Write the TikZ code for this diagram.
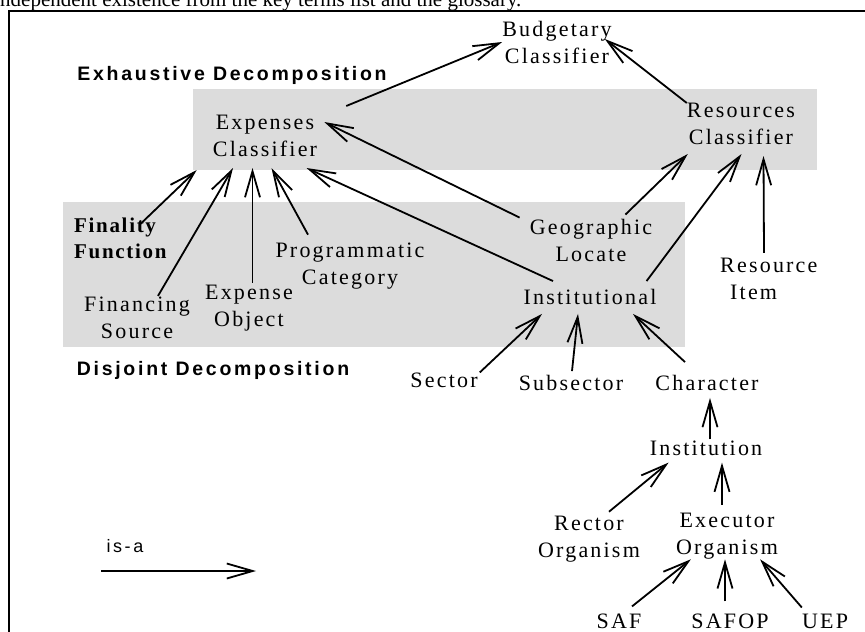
\documentclass[tikz,border=0pt]{standalone}
\usepackage{fontspec}
\setmainfont{Liberation Serif}
\setsansfont{Liberation Sans}
\newfontfamily\spacedserif[LetterSpace=10]{Liberation Serif}
\newfontfamily\spacedbold[LetterSpace=8]{Liberation Serif}
\newfontfamily\spacedsans[LetterSpace=14]{Liberation Sans}
\usetikzlibrary{arrows.meta}
\definecolor{panelgray}{RGB}{220,220,220}
\tikzset{
  term/.style={inner sep=0pt, align=center, font=\spacedserif\fontsize{22}{27}\selectfont},
  boldterm/.style={inner sep=0pt, align=left, font=\spacedbold\bfseries\fontsize{21}{26}\selectfont},
  decomp/.style={inner sep=0pt, font=\spacedsans\bfseries\fontsize{19.5}{23}\selectfont},
  isa/.style={-{Straight Barb[length=26pt,width=15pt]}, line width=1.8pt},
  panel/.style={fill=panelgray}
}
\begin{document}
\begin{tikzpicture}[x=1pt,y=-1pt]
            \useasboundingbox (0,0) rectangle (865,632);
            \clip (0,0) rectangle (865,632);
            \node (caption) [anchor=base west, inner sep=0pt, font=\fontsize{21}{25}\selectfont] at (0,6) {ndependent existence from the key terms list and the glossary.};
            \draw[line width=2pt] (9,650) -- (9,11) -- (880,11);

            %Panels
            \fill[panel] (193,89) rectangle (817,170);
            \fill[panel] (63,202) rectangle (685,347);
            \node (exhaustive) [decomp] at (232,75) {Exhaustive Decomposition};
            \node (disjoint) [decomp] at (213,370) {Disjoint Decomposition};

            %Nodes
            \node (budget) [term] at (557,42) {Budgetary\\Classifier};
            \node (expcls) [term] at (265,136) {Expenses\\Classifier};
            \node (rescls) [term] at (741,124) {Resources\\Classifier};
            \node (finality) [boldterm, anchor=west] at (74,238) {Finality\\Function};
            \node (financing) [term] at (137,318) {Financing\\Source};
            \node (expobj) [term] at (249,308) {Expense\\Object};
            \node (progcat) [term] at (350,266) {Programmatic\\Category};
            \node (geo) [term] at (591,240) {Geographic\\Locate};
            \node (inst) [term] at (590,297) {Institutional};
            \node (resitem) [term, align=left, anchor=west] at (720,279) {Resource\\\hspace*{10pt}Item};
            \node (sector) [term] at (444,380) {Sector};
            \node (subsector) [term] at (571,383) {Subsector};
            \node (character) [term] at (707,383) {Character};
            \node (institution) [term] at (706,448) {Institution};
            \node (rector) [term] at (589,539) {Rector\\Organism};
            \node (executor) [term] at (727,536) {Executor\\Organism};
            \node (saf) [term] at (619,621) {SAF};
            \node (safop) [term] at (730,621) {SAFOP};
            \node (uep) [term] at (825,621) {UEP};

            %Legend
            \node (isalabel) [inner sep=0pt, font=\spacedsans\fontsize{18}{22}\selectfont] at (125,546) {is-a};
            \coordinate (legstart) at (101,571);
            \coordinate (legend) at (256,571);
            \draw[isa] (legstart) -- (legend);

            %Lines
            \draw[isa] ([shift={(29,-9)}]expcls.north east) -- (budget.west);
            \draw[isa] (rescls.north west) -- ([shift={(-7,-3)}]budget.east);
            \draw[isa] ([shift={(66,7)}]finality.north west) -- ([shift={(-16,13)}]expcls.south west);
            \draw[isa] ([shift={(21,-1)}]financing.north) -- ([shift={(-32,11)}]expcls.south);
            \draw[isa] ([shift={(3.5,-2)}]expobj.north) -- ([shift={(-12.5,11)}]expcls.south);
            \draw[isa] ([shift={(-42,-8)}]progcat.north) -- ([shift={(6.5,11)}]expcls.south);
            \draw[isa] ([shift={(-37,-8)}]inst.north) -- ([shift={(41.5,11)}]expcls.south);
            \draw[isa] ([shift={(-10,-1)}]geo.north west) -- ([shift={(7,-14)}]expcls.east);
            \draw[isa] ([shift={(-27,-4)}]geo.north east) -- ([shift={(1,9)}]rescls.south west);
            \draw[isa] ([shift={(-10,-8)}]inst.north east) -- ([shift={(0.5,9)}]rescls.south);
            \draw[isa] ([shift={(44,-5)}]resitem.north west) -- ([shift={(22.5,11)}]rescls.south);
            \draw[isa] ([shift={(2,0)}]sector.north east) -- ([shift={(-48,9)}]inst.south);
            \draw[isa] ([shift={(1,-4)}]subsector.north) -- ([shift={(-12,9)}]inst.south);
            \draw[isa] ([shift={(-22,-13)}]character.north) -- ([shift={(43,9)}]inst.south);
            \draw[isa] ([shift={(4,-1)}]institution.north) -- ([shift={(3,7)}]character.south);
            \draw[isa] ([shift={(20,-4)}]rector.north) -- ([shift={(19,7)}]institution.south west);
            \draw[isa] ([shift={(-5,-8)}]executor.north) -- ([shift={(16,7)}]institution.south);
            \draw[isa] ([shift={(13,-7)}]saf.north) -- ([shift={(15,0)}]executor.south west);
            \draw[isa] ([shift={(-5,-12)}]safop.north) -- ([shift={(-2,0)}]executor.south);
            \draw[isa] ([shift={(0,-6)}]uep.north west) -- ([shift={(-18,0)}]executor.south east);
        \end{tikzpicture}
\end{document}
